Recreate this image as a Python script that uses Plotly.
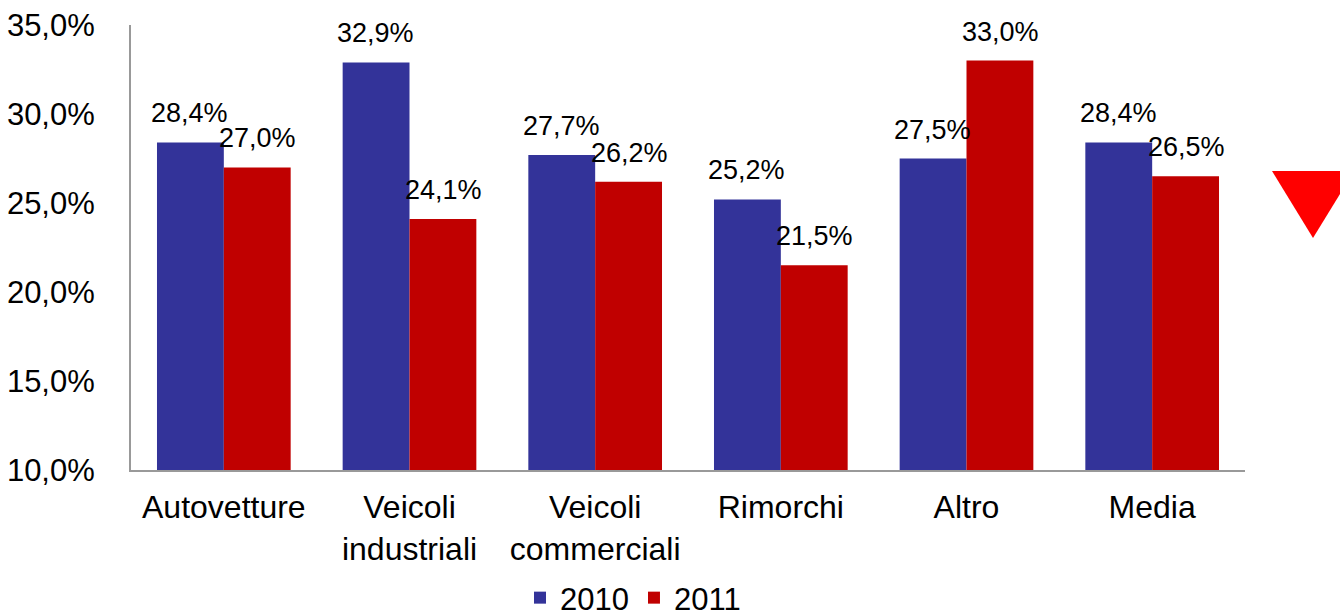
import plotly.graph_objects as go

categories = ["Autovetture", "Veicoli<br>industriali", "Veicoli<br>commerciali", "Rimorchi", "Altro", "Media"]
series_names = ["2010", "2011"]
values_2010 = [28.4, 32.9, 27.7, 25.2, 27.5, 28.4]
values_2011 = [27.0, 24.1, 26.2, 21.5, 33.0, 26.5]
y_ticks = [10, 15, 20, 25, 30, 35]

colors = ["#333399", "#C00000"]
FONT = "Liberation Sans, Arial, sans-serif"

L, R, T, B = 131, 95, 25, 146
W, H = 1340, 616
pw, ph = W - L - R, H - T - B


def fmt(v):
    return f"{v:.1f}".replace(".", ",") + "%"


fig = go.Figure()
for name, vals, col in zip(series_names, [values_2010, values_2011], colors):
    fig.add_trace(go.Bar(
        x=categories, y=vals, name=name, marker=dict(color=col, line=dict(width=0)),
    ))

annotations = []
for vals, shift in [(values_2010, -34), (values_2011, 34)]:
    for c, v in zip(categories, vals):
        annotations.append(dict(
            x=c, y=v, xref="x", yref="y", text=fmt(v), showarrow=False,
            xshift=shift, yshift=12, yanchor="bottom",
            font=dict(family=FONT, size=27, color="#000000"),
        ))


# red down triangle decoration (pixel -> paper)
def px(xp):
    return (xp - L) / pw


def py(yp):
    return (H - B - yp) / ph


path = f"M {px(1272)},{py(171)} L {px(1354)},{py(171)} L {px(1313)},{py(238)} Z"

fig.update_layout(
    width=W, height=H,
    margin=dict(l=L, r=R, t=T, b=B, autoexpand=False),
    paper_bgcolor="white", plot_bgcolor="white",
    separators=",.",
    barmode="group", bargap=0.28, bargroupgap=0,
    font=dict(family=FONT, color="#000000"),
    annotations=annotations,
    shapes=[dict(type="path", path=path, xref="paper", yref="paper",
                 fillcolor="#FF0000", line=dict(width=0), layer="above")],
    showlegend=True,
    legend=dict(orientation="h", xref="container", yref="container",
                x=520 / W, xanchor="left",
                y=(H - 598) / H, yanchor="middle", font=dict(size=31),
                itemwidth=30, traceorder="normal"),
    xaxis=dict(showline=True, linecolor="#999999", linewidth=2, ticks="",
               tickfont=dict(size=32), showgrid=False, automargin=False,
               ticklabelstandoff=8),
    yaxis=dict(range=[10, 35], tickvals=y_ticks, ticktext=[fmt(v) for v in y_ticks],
               showline=True, linecolor="#999999", linewidth=2, ticks="",
               ticklabelstandoff=28, automargin=False,
               tickfont=dict(size=31), showgrid=False, zeroline=False),
)

fig.write_html("out.html", config={"displayModeBar": False},
               post_script="document.body.style.margin='0';document.body.style.overflow='hidden';")
